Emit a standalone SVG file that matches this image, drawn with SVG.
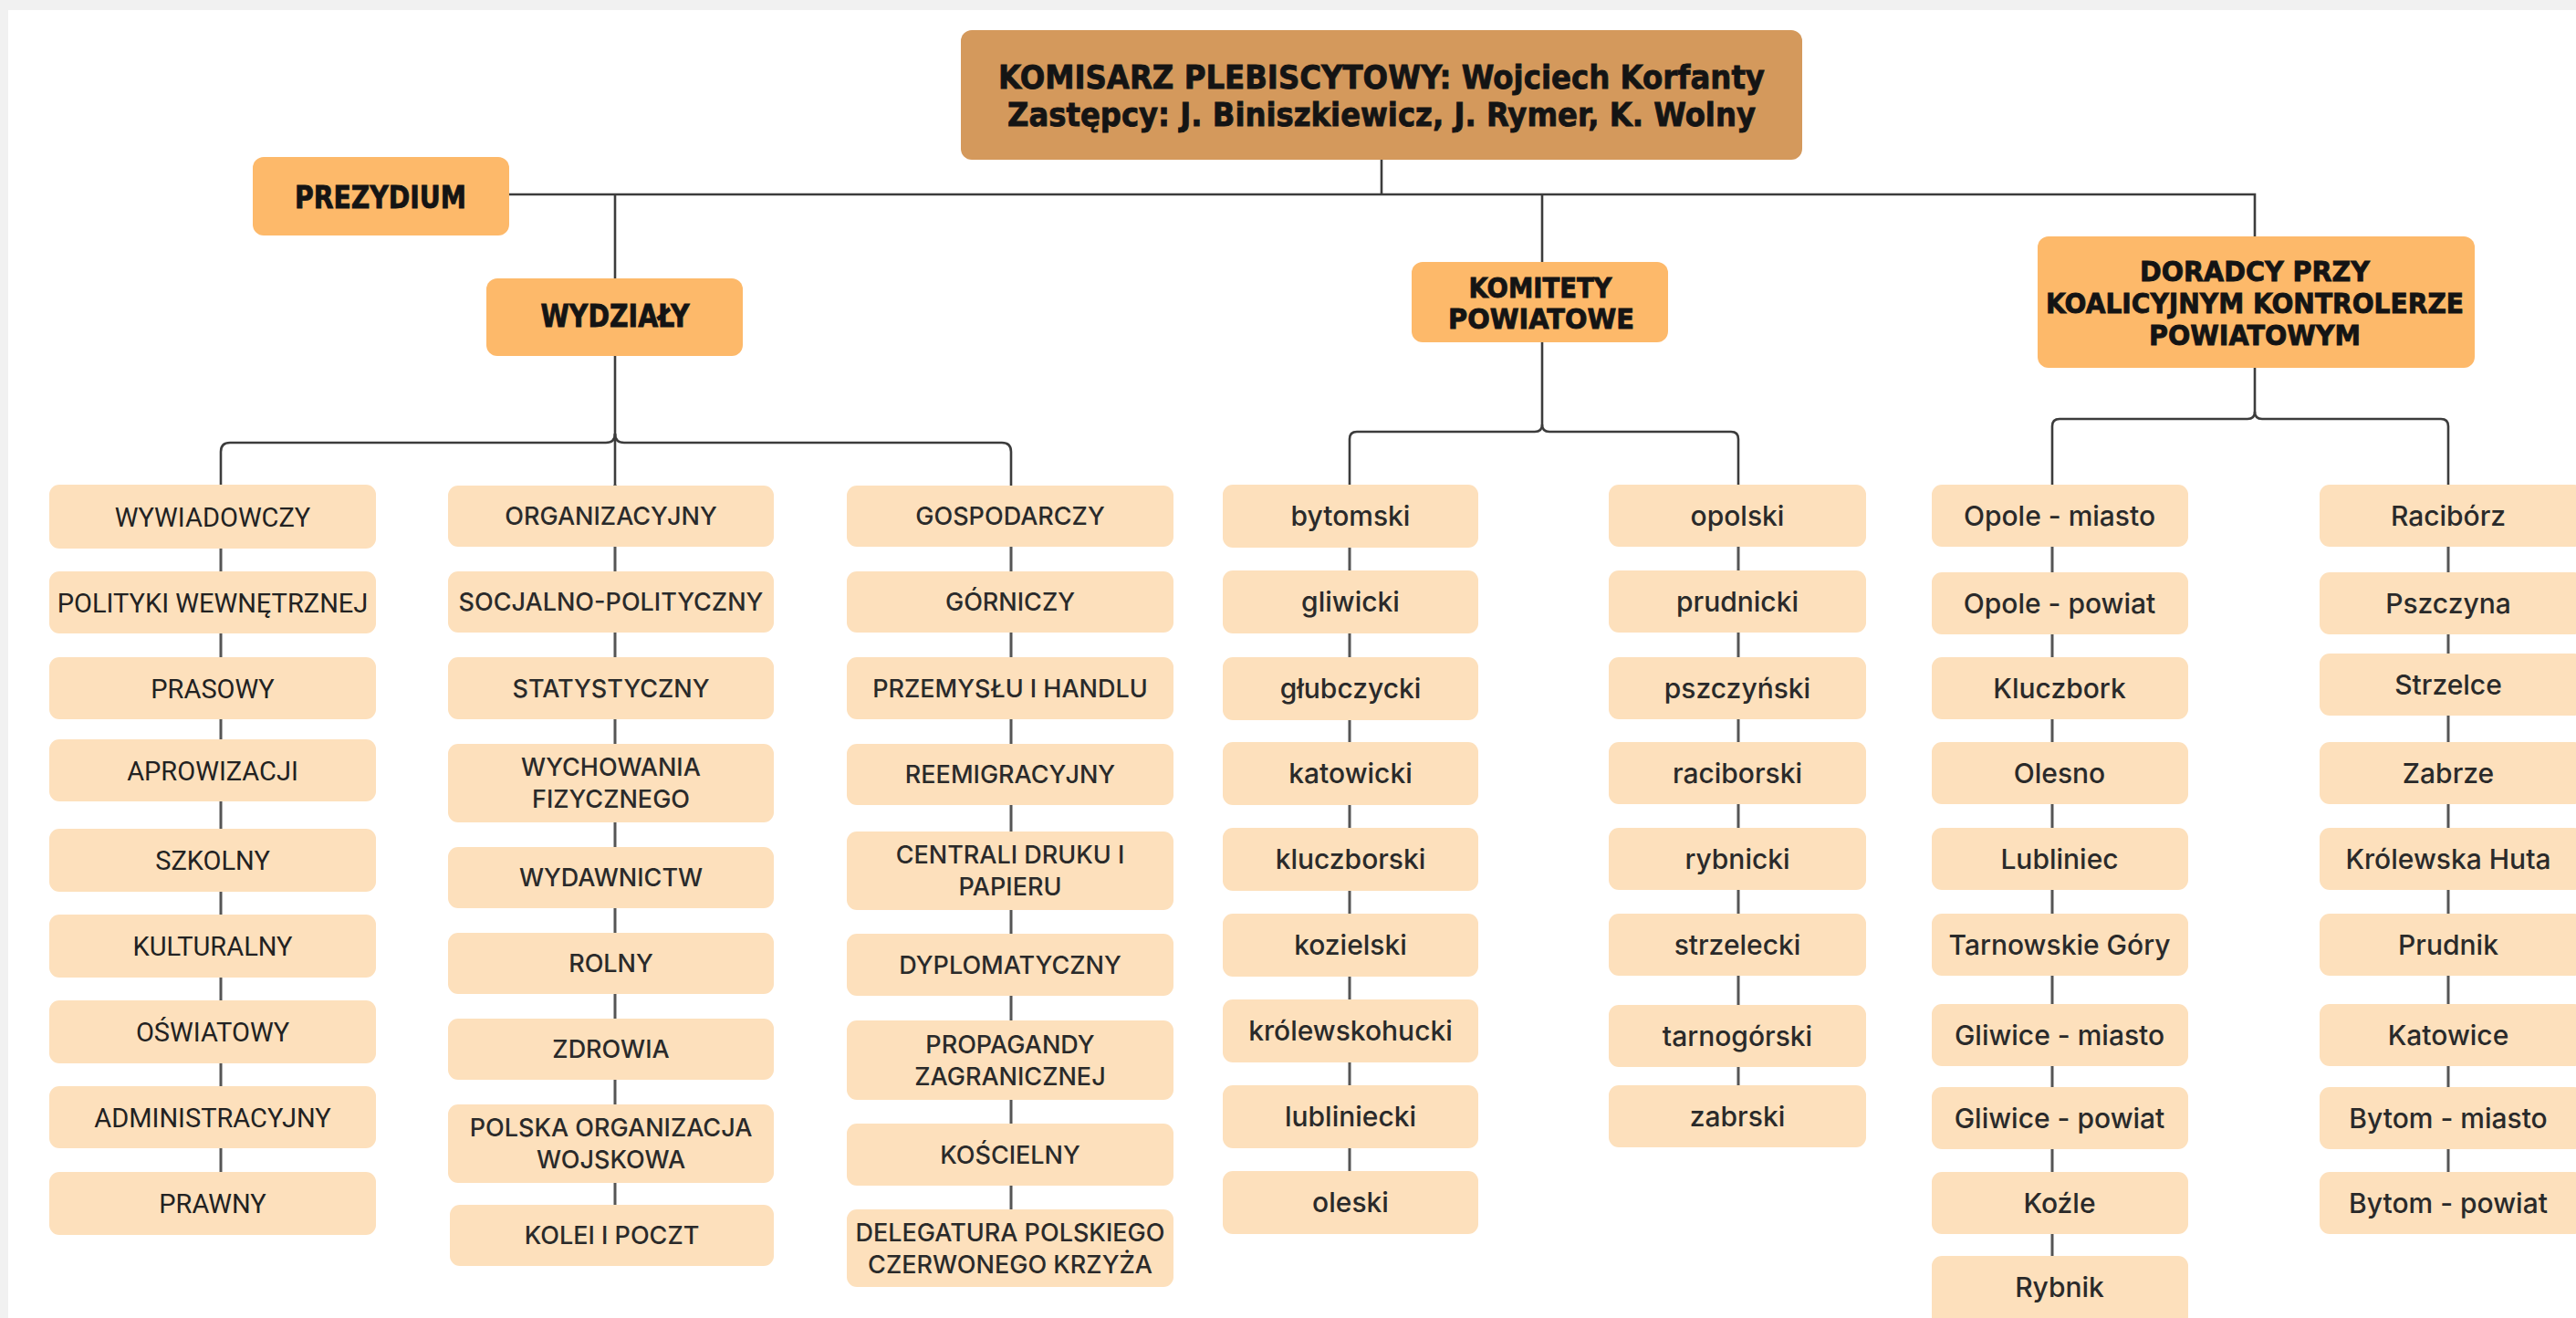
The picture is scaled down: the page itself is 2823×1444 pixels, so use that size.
<svg xmlns="http://www.w3.org/2000/svg" width="2823" height="1444" viewBox="0 0 2823 1444">
<style>
.bg{fill:#f1f1f1}
.page{fill:#ffffff}
.top rect{fill:#D4995C}
.mid rect{fill:#FDB96A}
.leaf rect{fill:#FDE0BC}
.h{font-family:"DejaVu Sans","Liberation Sans",sans-serif;font-weight:bold;fill:#141414;stroke:#141414;stroke-width:0.9;text-anchor:middle}
.h1{font-size:36px}
.h2{font-size:34px}
.h3{font-size:31px}
.c1{font-family:Roboto,"Liberation Sans",Arial,sans-serif;font-size:29px;fill:#222222;text-anchor:middle}
.c2{font-family:Inter,"Liberation Sans",sans-serif;font-weight:500;font-size:27px;fill:#2a2a2a;text-anchor:middle}
.c4{font-family:Inter,"Liberation Sans",sans-serif;font-weight:500;font-size:30px;fill:#2a2a2a;text-anchor:middle}
.conn path{fill:none;stroke:#3c3c3c;stroke-width:2.6}
.conn .leafline{stroke:#555555;stroke-width:3}
</style>
<rect class="bg" x="0" y="0" width="2823" height="1444"/>
<rect class="page" x="9" y="11" width="2814" height="1433"/>

<g id="connectors" class="conn">
<path d="M1514,175 V213"/>
<path d="M558,213 H2471 V259"/>
<path d="M674,213 V305"/>
<path d="M1690,213 V287"/>
<path d="M674,390 V532"/>
<path d="M242,531 V495 Q242,485 252,485 H664 Q674,485 674,475"/>
<path d="M674,475 Q674,485 684,485 H1098 Q1108,485 1108,495 V532"/>
<path d="M1690,375 V465"/>
<path d="M1479,531 V481 Q1479,473 1487,473 H1682 Q1690,473 1690,465"/>
<path d="M1690,465 Q1690,473 1698,473 H1897 Q1905,473 1905,481 V531"/>
<path d="M2471,403 V451"/>
<path d="M2249,531 V467 Q2249,459 2257,459 H2463 Q2471,459 2471,451"/>
<path d="M2471,451 Q2471,459 2479,459 H2675 Q2683,459 2683,467 V531"/>
<path class="leafline" d="M242,531 V1284"/>
<path class="leafline" d="M674,531 V1320"/>
<path class="leafline" d="M1108,532 V1325"/>
<path class="leafline" d="M1479,531 V1283"/>
<path class="leafline" d="M1905,531 V1189"/>
<path class="leafline" d="M2249,531 V1376"/>
<path class="leafline" d="M2683,531 V1284"/>
</g>

<g id="komisarz" class="top">
<rect x="1053" y="33" width="922" height="142" rx="12"/>
<text class="h h1" x="1514" y="97" textLength="840" lengthAdjust="spacingAndGlyphs">KOMISARZ PLEBISCYTOWY: Wojciech Korfanty</text>
<text class="h h1" x="1514" y="138" textLength="820" lengthAdjust="spacingAndGlyphs">Zastępcy: J. Biniszkiewicz, J. Rymer, K. Wolny</text>
</g>
<g id="prezydium" class="mid">
<rect x="277" y="172" width="281" height="86" rx="12"/>
<text class="h h2" x="417" y="228" textLength="188" lengthAdjust="spacingAndGlyphs">PREZYDIUM</text>
</g>
<g id="wydzialy" class="mid">
<rect x="533" y="305" width="281" height="85" rx="12"/>
<text class="h h2" x="674" y="358" textLength="163" lengthAdjust="spacingAndGlyphs">WYDZIAŁY</text>
</g>
<g id="komitety" class="mid">
<rect x="1547" y="287" width="281" height="88" rx="12"/>
<text class="h h3" x="1688" y="326" textLength="157" lengthAdjust="spacingAndGlyphs">KOMITETY</text>
<text class="h h3" x="1689" y="360" textLength="204" lengthAdjust="spacingAndGlyphs">POWIATOWE</text>
</g>
<g id="doradcy" class="mid">
<rect x="2233" y="259" width="479" height="144" rx="12"/>
<text class="h h3" x="2471" y="308" textLength="252" lengthAdjust="spacingAndGlyphs">DORADCY PRZY</text>
<text class="h h3" x="2471" y="343" textLength="458" lengthAdjust="spacingAndGlyphs">KOALICYJNYM KONTROLERZE</text>
<text class="h h3" x="2471" y="378" textLength="232" lengthAdjust="spacingAndGlyphs">POWIATOWYM</text>
</g>

<!-- Column 1 -->
<g id="wywiadowczy" class="leaf"><rect x="54" y="531" width="358" height="70" rx="11"/><text class="c1" x="233" y="576.5">WYWIADOWCZY</text></g>
<g id="polityki" class="leaf"><rect x="54" y="626" width="358" height="68" rx="11"/><text class="c1" x="233" y="670.5">POLITYKI WEWNĘTRZNEJ</text></g>
<g id="prasowy" class="leaf"><rect x="54" y="720" width="358" height="68" rx="11"/><text class="c1" x="233" y="764.5">PRASOWY</text></g>
<g id="aprowizacji" class="leaf"><rect x="54" y="810" width="358" height="68" rx="11"/><text class="c1" x="233" y="854.5">APROWIZACJI</text></g>
<g id="szkolny" class="leaf"><rect x="54" y="908" width="358" height="69" rx="11"/><text class="c1" x="233" y="953">SZKOLNY</text></g>
<g id="kulturalny" class="leaf"><rect x="54" y="1002" width="358" height="69" rx="11"/><text class="c1" x="233" y="1047">KULTURALNY</text></g>
<g id="oswiatowy" class="leaf"><rect x="54" y="1096" width="358" height="69" rx="11"/><text class="c1" x="233" y="1141">OŚWIATOWY</text></g>
<g id="administracyjny" class="leaf"><rect x="54" y="1190" width="358" height="68" rx="11"/><text class="c1" x="233" y="1234.5">ADMINISTRACYJNY</text></g>
<g id="prawny" class="leaf"><rect x="54" y="1284" width="358" height="69" rx="11"/><text class="c1" x="233" y="1329">PRAWNY</text></g>

<!-- Column 2 -->
<g id="organizacyjny" class="leaf"><rect x="491" y="532" width="357" height="67" rx="11"/><text class="c2" x="669.5" y="575.3">ORGANIZACYJNY</text></g>
<g id="socjalno" class="leaf"><rect x="491" y="626" width="357" height="67" rx="11"/><text class="c2" x="669.5" y="669.3">SOCJALNO-POLITYCZNY</text></g>
<g id="statystyczny" class="leaf"><rect x="491" y="720" width="357" height="68" rx="11"/><text class="c2" x="669.5" y="763.8">STATYSTYCZNY</text></g>
<g id="wychowania" class="leaf"><rect x="491" y="815" width="357" height="86" rx="11"/><text class="c2" x="669.5" y="850.3">WYCHOWANIA</text><text class="c2" x="669.5" y="885.3">FIZYCZNEGO</text></g>
<g id="wydawnictw" class="leaf"><rect x="491" y="928" width="357" height="67" rx="11"/><text class="c2" x="669.5" y="971.3">WYDAWNICTW</text></g>
<g id="rolny" class="leaf"><rect x="491" y="1022" width="357" height="67" rx="11"/><text class="c2" x="669.5" y="1065.3">ROLNY</text></g>
<g id="zdrowia" class="leaf"><rect x="491" y="1116" width="357" height="67" rx="11"/><text class="c2" x="669.5" y="1159.3">ZDROWIA</text></g>
<g id="polska-org" class="leaf"><rect x="491" y="1210" width="357" height="86" rx="11"/><text class="c2" x="669.5" y="1245.3">POLSKA ORGANIZACJA</text><text class="c2" x="669.5" y="1280.3">WOJSKOWA</text></g>
<g id="kolei" class="leaf"><rect x="493" y="1320" width="355" height="67" rx="11"/><text class="c2" x="670.5" y="1363.3">KOLEI I POCZT</text></g>

<!-- Column 3 -->
<g id="gospodarczy" class="leaf"><rect x="928" y="532" width="358" height="67" rx="11"/><text class="c2" x="1107" y="575.3">GOSPODARCZY</text></g>
<g id="gorniczy" class="leaf"><rect x="928" y="626" width="358" height="67" rx="11"/><text class="c2" x="1107" y="669.3">GÓRNICZY</text></g>
<g id="przemyslu" class="leaf"><rect x="928" y="720" width="358" height="68" rx="11"/><text class="c2" x="1107" y="763.8">PRZEMYSŁU I HANDLU</text></g>
<g id="reemigracyjny" class="leaf"><rect x="928" y="815" width="358" height="67" rx="11"/><text class="c2" x="1107" y="858.3">REEMIGRACYJNY</text></g>
<g id="centrali" class="leaf"><rect x="928" y="911" width="358" height="86" rx="11"/><text class="c2" x="1107" y="946.3">CENTRALI DRUKU I</text><text class="c2" x="1107" y="981.3">PAPIERU</text></g>
<g id="dyplomatyczny" class="leaf"><rect x="928" y="1023" width="358" height="68" rx="11"/><text class="c2" x="1107" y="1066.8">DYPLOMATYCZNY</text></g>
<g id="propagandy" class="leaf"><rect x="928" y="1118" width="358" height="87" rx="11"/><text class="c2" x="1107" y="1153.8">PROPAGANDY</text><text class="c2" x="1107" y="1188.8">ZAGRANICZNEJ</text></g>
<g id="koscielny" class="leaf"><rect x="928" y="1231" width="358" height="68" rx="11"/><text class="c2" x="1107" y="1274.8">KOŚCIELNY</text></g>
<g id="delegatura" class="leaf"><rect x="928" y="1325" width="358" height="85" rx="11"/><text class="c2" x="1107" y="1359.8">DELEGATURA POLSKIEGO</text><text class="c2" x="1107" y="1394.8">CZERWONEGO KRZYŻA</text></g>

<!-- Column 4 -->
<g id="bytomski" class="leaf"><rect x="1340" y="531" width="280" height="69" rx="11"/><text class="c4" x="1480" y="576">bytomski</text></g>
<g id="gliwicki" class="leaf"><rect x="1340" y="625" width="280" height="69" rx="11"/><text class="c4" x="1480" y="670">gliwicki</text></g>
<g id="glubczycki" class="leaf"><rect x="1340" y="720" width="280" height="69" rx="11"/><text class="c4" x="1480" y="765">głubczycki</text></g>
<g id="katowicki" class="leaf"><rect x="1340" y="813" width="280" height="69" rx="11"/><text class="c4" x="1480" y="858">katowicki</text></g>
<g id="kluczborski" class="leaf"><rect x="1340" y="907" width="280" height="69" rx="11"/><text class="c4" x="1480" y="952">kluczborski</text></g>
<g id="kozielski" class="leaf"><rect x="1340" y="1001" width="280" height="69" rx="11"/><text class="c4" x="1480" y="1046">kozielski</text></g>
<g id="krolewskohucki" class="leaf"><rect x="1340" y="1095" width="280" height="69" rx="11"/><text class="c4" x="1480" y="1140">królewskohucki</text></g>
<g id="lubliniecki" class="leaf"><rect x="1340" y="1189" width="280" height="69" rx="11"/><text class="c4" x="1480" y="1234">lubliniecki</text></g>
<g id="oleski" class="leaf"><rect x="1340" y="1283" width="280" height="69" rx="11"/><text class="c4" x="1480" y="1328">oleski</text></g>

<!-- Column 5 -->
<g id="opolski" class="leaf"><rect x="1763" y="531" width="282" height="68" rx="11"/><text class="c4" x="1904" y="575.5">opolski</text></g>
<g id="prudnicki" class="leaf"><rect x="1763" y="625" width="282" height="68" rx="11"/><text class="c4" x="1904" y="669.5">prudnicki</text></g>
<g id="pszczynski" class="leaf"><rect x="1763" y="720" width="282" height="68" rx="11"/><text class="c4" x="1904" y="764.5">pszczyński</text></g>
<g id="raciborski" class="leaf"><rect x="1763" y="813" width="282" height="68" rx="11"/><text class="c4" x="1904" y="857.5">raciborski</text></g>
<g id="rybnicki" class="leaf"><rect x="1763" y="907" width="282" height="68" rx="11"/><text class="c4" x="1904" y="951.5">rybnicki</text></g>
<g id="strzelecki" class="leaf"><rect x="1763" y="1001" width="282" height="68" rx="11"/><text class="c4" x="1904" y="1045.5">strzelecki</text></g>
<g id="tarnogorski" class="leaf"><rect x="1763" y="1101" width="282" height="68" rx="11"/><text class="c4" x="1904" y="1145.5">tarnogórski</text></g>
<g id="zabrski" class="leaf"><rect x="1763" y="1189" width="282" height="68" rx="11"/><text class="c4" x="1904" y="1233.5">zabrski</text></g>

<!-- Column 6 -->
<g id="opole-miasto" class="leaf"><rect x="2117" y="531" width="281" height="68" rx="11"/><text class="c4" x="2257" y="575.5">Opole - miasto</text></g>
<g id="opole-powiat" class="leaf"><rect x="2117" y="627" width="281" height="68" rx="11"/><text class="c4" x="2257" y="671.5">Opole - powiat</text></g>
<g id="kluczbork" class="leaf"><rect x="2117" y="720" width="281" height="68" rx="11"/><text class="c4" x="2257" y="764.5">Kluczbork</text></g>
<g id="olesno" class="leaf"><rect x="2117" y="813" width="281" height="68" rx="11"/><text class="c4" x="2257" y="857.5">Olesno</text></g>
<g id="lubliniec" class="leaf"><rect x="2117" y="907" width="281" height="68" rx="11"/><text class="c4" x="2257" y="951.5">Lubliniec</text></g>
<g id="tarnowskie-gory" class="leaf"><rect x="2117" y="1001" width="281" height="68" rx="11"/><text class="c4" x="2257" y="1045.5">Tarnowskie Góry</text></g>
<g id="gliwice-miasto" class="leaf"><rect x="2117" y="1100" width="281" height="68" rx="11"/><text class="c4" x="2257" y="1144.5">Gliwice - miasto</text></g>
<g id="gliwice-powiat" class="leaf"><rect x="2117" y="1191" width="281" height="68" rx="11"/><text class="c4" x="2257" y="1235.5">Gliwice - powiat</text></g>
<g id="kozle" class="leaf"><rect x="2117" y="1284" width="281" height="68" rx="11"/><text class="c4" x="2257" y="1328.5">Koźle</text></g>
<g id="rybnik" class="leaf"><rect x="2117" y="1376" width="281" height="80" rx="11"/><text class="c4" x="2257" y="1420.5">Rybnik</text></g>

<!-- Column 7 -->
<g id="raciborz" class="leaf"><rect x="2542" y="531" width="290" height="68" rx="11"/><text class="c4" x="2683" y="575.5">Racibórz</text></g>
<g id="pszczyna" class="leaf"><rect x="2542" y="627" width="290" height="68" rx="11"/><text class="c4" x="2683" y="671.5">Pszczyna</text></g>
<g id="strzelce" class="leaf"><rect x="2542" y="716" width="290" height="68" rx="11"/><text class="c4" x="2683" y="760.5">Strzelce</text></g>
<g id="zabrze" class="leaf"><rect x="2542" y="813" width="290" height="68" rx="11"/><text class="c4" x="2683" y="857.5">Zabrze</text></g>
<g id="krolewska-huta" class="leaf"><rect x="2542" y="907" width="290" height="68" rx="11"/><text class="c4" x="2683" y="951.5">Królewska Huta</text></g>
<g id="prudnik" class="leaf"><rect x="2542" y="1001" width="290" height="68" rx="11"/><text class="c4" x="2683" y="1045.5">Prudnik</text></g>
<g id="katowice" class="leaf"><rect x="2542" y="1100" width="290" height="68" rx="11"/><text class="c4" x="2683" y="1144.5">Katowice</text></g>
<g id="bytom-miasto" class="leaf"><rect x="2542" y="1191" width="290" height="68" rx="11"/><text class="c4" x="2683" y="1235.5">Bytom - miasto</text></g>
<g id="bytom-powiat" class="leaf"><rect x="2542" y="1284" width="290" height="68" rx="11"/><text class="c4" x="2683" y="1328.5">Bytom - powiat</text></g>
</svg>
